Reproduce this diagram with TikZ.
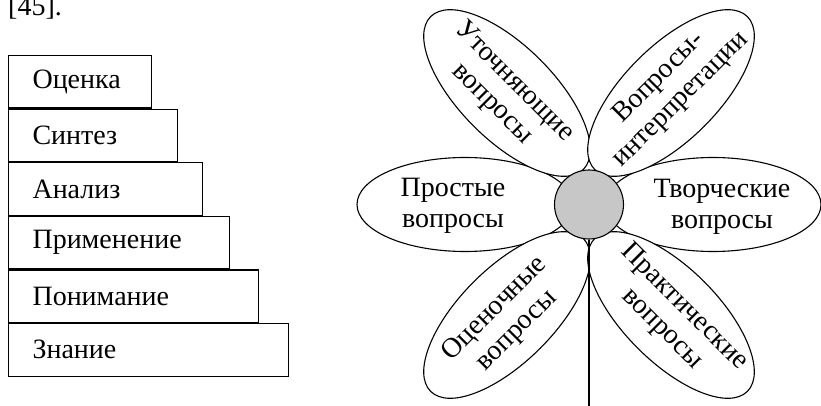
\documentclass[tikz,border=0pt]{standalone}
\usepackage{fontspec}
\setmainfont{Liberation Serif}
\usetikzlibrary{shapes.geometric}
\begin{document}
\begin{tikzpicture}[
        x=1pt,y=-1pt,
        every node/.style={font=\fontsize{28}{31}\selectfont},
        stair/.style={draw,line width=1.1pt,anchor=north west,minimum height=52.5pt,
            inner xsep=24pt,align=left},
        petal/.style={draw,line width=1.1pt,ellipse,fill=white,inner sep=0pt,
            minimum width=216pt,minimum height=94pt},
        word/.style={align=center,inner sep=0pt},
        core/.style={draw,line width=1.1pt,circle,fill=black!22,minimum size=69pt,inner sep=0pt},
        ]
    \clip (0,0) rectangle (821,406);
    \node[anchor=base west,inner sep=0pt] (ref) at (8,15.5) {[45].};
    % ladder
    \node[stair,minimum width=143pt,text width=95pt] (s1) at (8,55) {Оценка};
    \node[stair,minimum width=169pt,text width=121pt] (s2) at (s1.south west) {Синтез};
    \node[stair,minimum width=194pt,text width=146pt] (s3) at (s2.south west) {Анализ};
    \node[stair,minimum width=221pt,text width=173pt] (s4) at (s3.south west) {Применение};
    \node[stair,minimum width=250pt,text width=202pt] (s5) at (s4.south west) {Понимание};
    \node[stair,minimum width=280pt,text width=232pt] (s6) at (s5.south west) {Знание};
    % flower
    \coordinate (root) at (589,406);
    \node[petal] (pl) at (465,204.5) {};
    \node[petal] (pr) at (713,204.5) {};
    \node[petal,rotate=-45] (pul) at (507,93) {};
    \node[petal,rotate=45] (pur) at (671,93) {};
    \node[petal,rotate=45] (pll) at (507,315) {};
    \node[petal,rotate=-45] (plr) at (671,315) {};
    \node[core] (c) at (589,204.5) {};
    \draw[line width=1.1pt] (c.south) -- (root);
    \node[word] (tl) at (453,206) {Простые\\вопросы};
    \node[word] (tr) at (722,207) {Творческие\\вопросы};
    \node[word,rotate=-45] (tul) at (503,93) {Уточняющие\\вопросы};
    \node[word,rotate=45] (tur) at (670,89) {Вопросы-\\интерпретации};
    \node[word,rotate=45] (tll) at (506,320) {Оценочные\\вопросы};
    \node[word,rotate=-45] (tlr) at (673,318) {Практические\\вопросы};
\end{tikzpicture}
\end{document}
